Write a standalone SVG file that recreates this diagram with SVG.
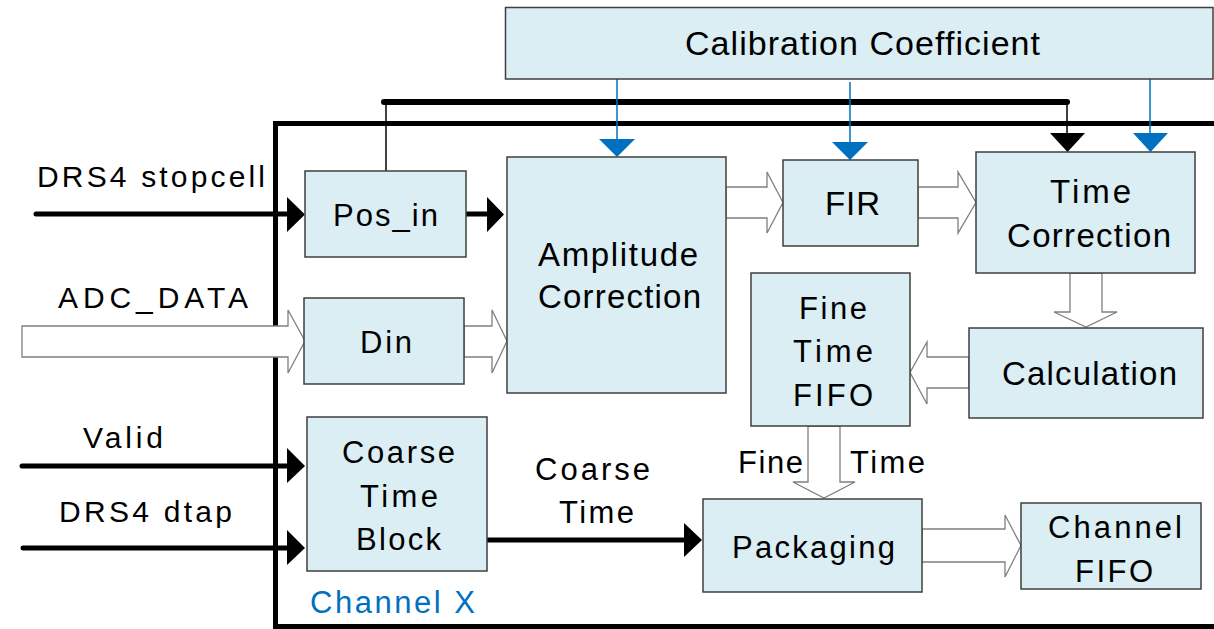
<svg xmlns="http://www.w3.org/2000/svg" width="1214" height="629" viewBox="0 0 1214 629">
<style>
.box{fill:#DAEEF3;stroke:#3F3F3F;stroke-width:1.5}
.t{font-family:"Liberation Sans",Arial,sans-serif;font-size:31px;fill:#000}
.hol{fill:#fff;stroke:#7F7F7F;stroke-width:1.3;stroke-linejoin:miter}
.blk{stroke:#000;stroke-width:5;stroke-linecap:round;fill:none}
.thin{stroke:#000;stroke-width:1.5;fill:none}
.bl{stroke:#0070C0;stroke-width:1.5;fill:none}
.bh{fill:#0070C0}
.kh{fill:#000}
</style>
<rect width="1214" height="629" fill="#fff"/>
<g id="frame">
<path d="M1214,123.5 H275.5 V626.5 H1214" fill="none" stroke="#000" stroke-width="5"/>
<text class="t" x="310" y="613" fill="#0070C0" style="fill:#0070C0" textLength="165" lengthAdjust="spacing">Channel X</text>
</g>
<g id="connectors">
<polygon class="hol" points="22,326 288,326 288,310 305,341 288,373 288,357 22,357"/>
<polygon class="hol" points="464,326 492,326 492,310 507,341 492,373 492,357 464,357"/>
<polygon class="hol" points="726,187 767,187 767,172 783,202.5 767,233 767,218 726,218"/>
<polygon class="hol" points="918,187 958,187 958,172 976,202.5 958,233 958,218 918,218"/>
<polygon class="hol" points="1070,273 1070,312 1054,312 1086,327 1117,312 1102,312 1102,273"/>
<polygon class="hol" points="969,357 927,357 927,342 910,372.5 927,404 927,388 969,388"/>
<polygon class="hol" points="808,426 808,482 793,482 824,498 855,482 840,482 840,426"/>
<polygon class="hol" points="922,529 1005,529 1005,515 1021,545.5 1005,577 1005,562 922,562"/>
<line class="blk" x1="36" y1="214" x2="289" y2="214"/>
<polygon class="kh" points="287,197 305,214.5 287,232"/>
<line class="blk" x1="464" y1="214" x2="489" y2="214"/>
<polygon class="kh" points="487,197 504,214.5 487,232"/>
<line class="blk" x1="22" y1="466" x2="289" y2="466"/>
<polygon class="kh" points="287,448 305,466 287,483"/>
<line class="blk" x1="23" y1="548" x2="289" y2="548"/>
<polygon class="kh" points="287,530 305,548 287,565"/>
<line class="blk" x1="488" y1="540" x2="686" y2="540"/>
<polygon class="kh" points="684,523 702,540 684,557"/>
<line x1="384" y1="102" x2="1067" y2="102" stroke="#000" stroke-width="6" stroke-linecap="round"/>
<line class="thin" x1="386" y1="102" x2="386" y2="171"/>
<line class="thin" x1="1067" y1="102" x2="1067" y2="134"/>
<polygon class="kh" points="1050,133 1085,133 1067.5,152"/>
<line class="bl" x1="617" y1="79" x2="617" y2="140"/>
<polygon class="bh" points="599,139 635,139 617,157"/>
<line class="bl" x1="850" y1="82" x2="850" y2="143"/>
<polygon class="bh" points="832,142 868,142 850,160"/>
<line class="bl" x1="1150" y1="79" x2="1150" y2="134"/>
<polygon class="bh" points="1133,133 1168,133 1150.5,152"/>
<text class="t" x="37" y="187" font-size="30" style="font-size:30px" textLength="228" lengthAdjust="spacing">DRS4 stopcell</text>
<text class="t" x="58" y="308" style="font-size:30px" textLength="190" lengthAdjust="spacing">ADC_DATA</text>
<text class="t" x="83" y="448" style="font-size:30px" textLength="80" lengthAdjust="spacing">Valid</text>
<text class="t" x="59" y="522" style="font-size:30px" textLength="173" lengthAdjust="spacing">DRS4 dtap</text>
<text class="t" x="535" y="480" textLength="115" lengthAdjust="spacing">Coarse</text>
<text class="t" x="559" y="523" textLength="75" lengthAdjust="spacing">Time</text>
<text class="t" x="738" y="473" textLength="65" lengthAdjust="spacing">Fine</text>
<text class="t" x="850" y="473" textLength="75" lengthAdjust="spacing">Time</text>
</g>
<g id="calibration">
<rect class="box" x="505.5" y="7.5" width="707.5" height="71.5"/>
<text class="t" x="685" y="55" style="font-size:34px" textLength="355" lengthAdjust="spacing">Calibration Coefficient</text>
</g>
<g id="pos_in">
<rect class="box" x="305" y="171" width="161" height="86"/>
<text class="t" x="333" y="226" textLength="105" lengthAdjust="spacing">Pos_in</text>
</g>
<g id="din">
<rect class="box" x="304" y="298" width="160" height="86"/>
<text class="t" x="360" y="353" textLength="52" lengthAdjust="spacing">Din</text>
</g>
<g id="amplitude">
<rect class="box" x="507" y="157" width="219" height="236"/>
<text class="t" x="538" y="266" style="font-size:33px" textLength="160" lengthAdjust="spacing">Amplitude</text>
<text class="t" x="538" y="308" style="font-size:33px" textLength="163" lengthAdjust="spacing">Correction</text>
</g>
<g id="fir">
<rect class="box" x="783" y="160" width="135" height="86"/>
<text class="t" x="825" y="215" style="font-size:33px" textLength="55" lengthAdjust="spacing">FIR</text>
</g>
<g id="time_correction">
<rect class="box" x="976" y="152" width="219" height="121"/>
<text class="t" x="1050" y="203" style="font-size:33px" textLength="81" lengthAdjust="spacing">Time</text>
<text class="t" x="1007" y="247" style="font-size:33px" textLength="164" lengthAdjust="spacing">Correction</text>
</g>
<g id="calculation">
<rect class="box" x="969" y="328" width="234" height="90"/>
<text class="t" x="1002" y="385" style="font-size:33px" textLength="175" lengthAdjust="spacing">Calculation</text>
</g>
<g id="fine_time_fifo">
<rect class="box" x="751" y="273" width="159" height="153"/>
<text class="t" x="799" y="319" textLength="68" lengthAdjust="spacing">Fine</text>
<text class="t" x="793" y="362" textLength="80" lengthAdjust="spacing">Time</text>
<text class="t" x="793" y="406" textLength="80" lengthAdjust="spacing">FIFO</text>
</g>
<g id="coarse_time_block">
<rect class="box" x="307" y="417" width="180" height="154"/>
<text class="t" x="342" y="463" textLength="113" lengthAdjust="spacing">Coarse</text>
<text class="t" x="360" y="507" textLength="78" lengthAdjust="spacing">Time</text>
<text class="t" x="356" y="550" textLength="85" lengthAdjust="spacing">Block</text>
</g>
<g id="packaging">
<rect class="box" x="703" y="499" width="219" height="93"/>
<text class="t" x="732" y="558" textLength="163" lengthAdjust="spacing">Packaging</text>
</g>
<g id="channel_fifo">
<rect class="box" x="1021" y="503" width="180" height="86"/>
<text class="t" x="1048" y="538" textLength="134" lengthAdjust="spacing">Channel</text>
<text class="t" x="1075" y="582" textLength="78" lengthAdjust="spacing">FIFO</text>
</g>
</svg>
